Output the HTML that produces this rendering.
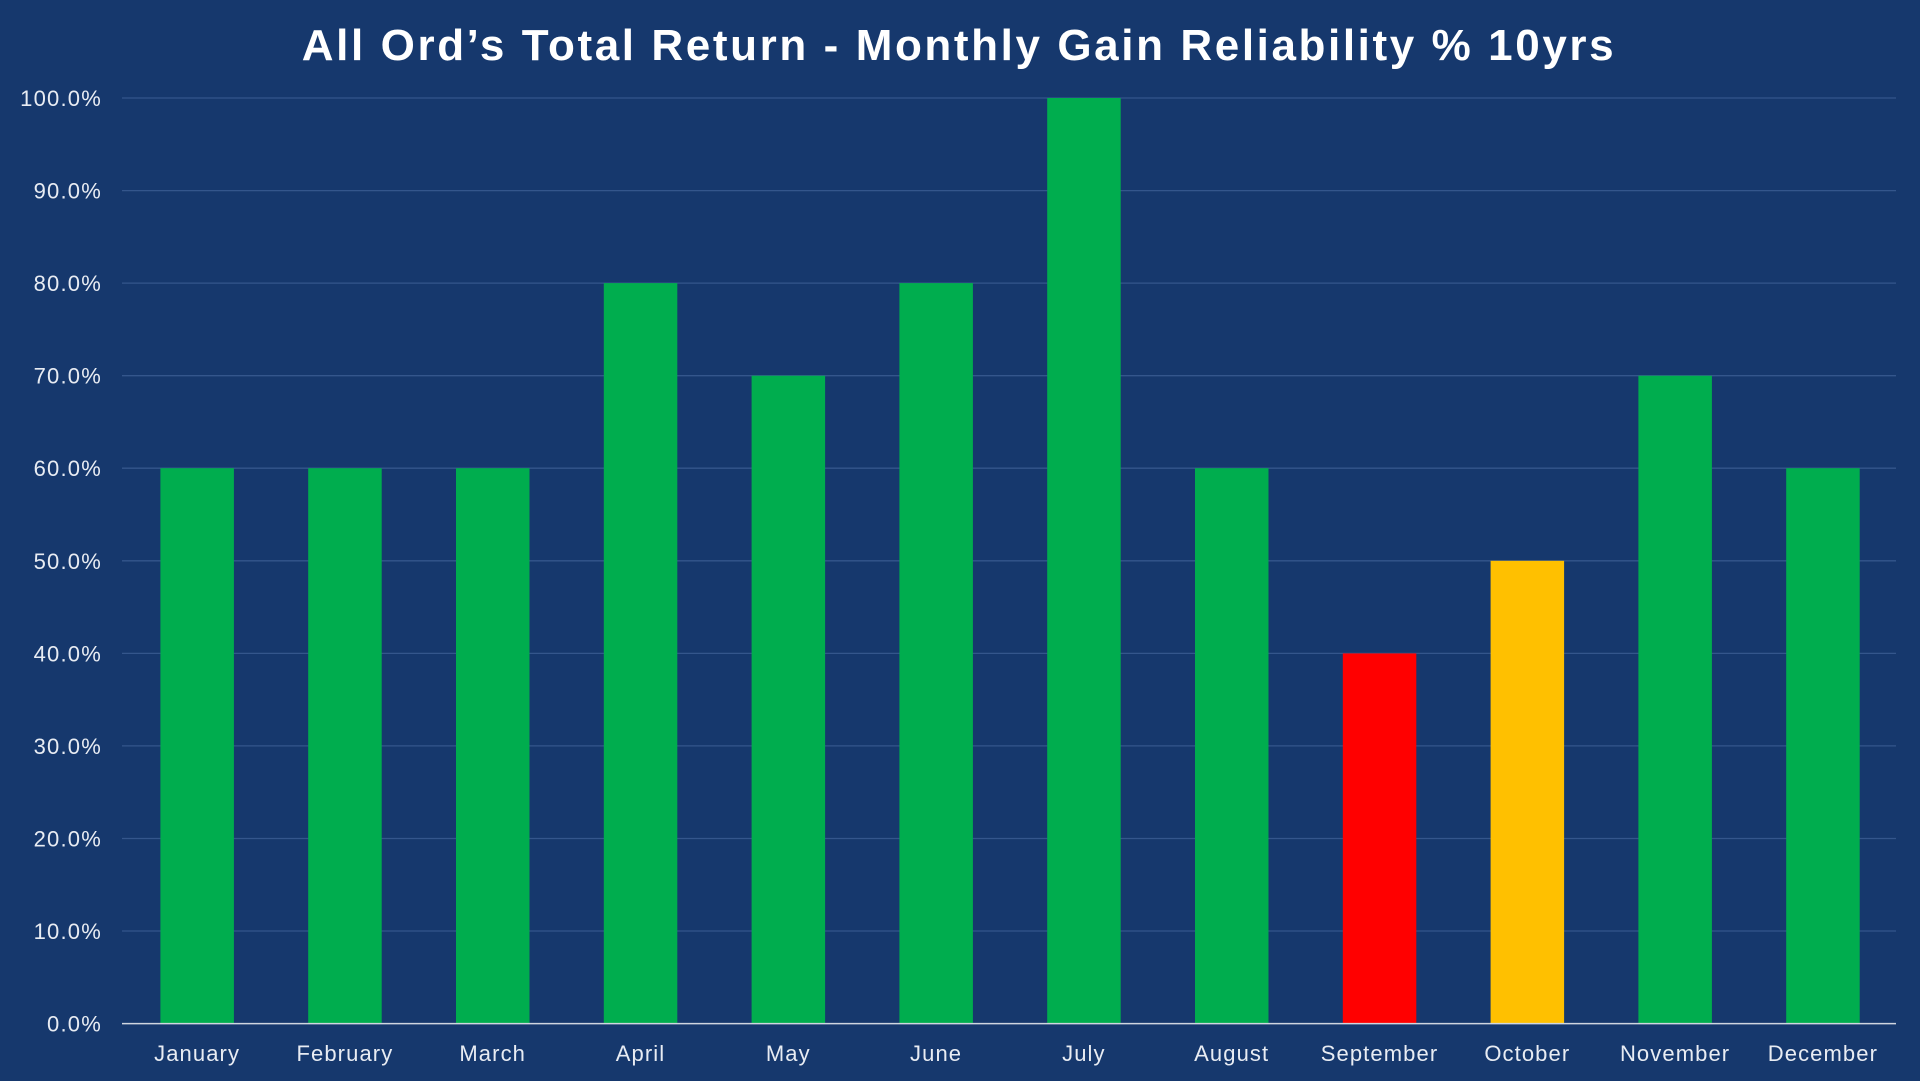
<!DOCTYPE html>
<html><head><meta charset="utf-8"><style>
html,body{margin:0;padding:0;background:#16386d;}
svg{display:block}
text{font-family:"Liberation Sans",sans-serif;fill:#e8ecf3}
</style></head><body>
<svg width="1920" height="1081" viewBox="0 0 1920 1081" xmlns="http://www.w3.org/2000/svg">
<rect width="1920" height="1081" fill="#16386d"/>
<text x="959" y="60" text-anchor="middle" font-size="44" font-weight="bold" letter-spacing="2.6" style="fill:#fff">All Ord’s Total Return - Monthly Gain Reliability % 10yrs</text>
<g stroke="#34568c" stroke-width="1.3">
<line x1="122" x2="1896" y1="98" y2="98"/>
<line x1="122" x2="1896" y1="190.6" y2="190.6"/>
<line x1="122" x2="1896" y1="283.1" y2="283.1"/>
<line x1="122" x2="1896" y1="375.7" y2="375.7"/>
<line x1="122" x2="1896" y1="468.2" y2="468.2"/>
<line x1="122" x2="1896" y1="560.8" y2="560.8"/>
<line x1="122" x2="1896" y1="653.4" y2="653.4"/>
<line x1="122" x2="1896" y1="745.9" y2="745.9"/>
<line x1="122" x2="1896" y1="838.5" y2="838.5"/>
<line x1="122" x2="1896" y1="931" y2="931"/>
</g>
<g font-size="22" text-anchor="end" letter-spacing="1.2">
<text x="102" y="106">100.0%</text>
<text x="102" y="198.6">90.0%</text>
<text x="102" y="291.1">80.0%</text>
<text x="102" y="383.7">70.0%</text>
<text x="102" y="476.2">60.0%</text>
<text x="102" y="568.8">50.0%</text>
<text x="102" y="661.4">40.0%</text>
<text x="102" y="753.9">30.0%</text>
<text x="102" y="846.5">20.0%</text>
<text x="102" y="939">10.0%</text>
<text x="102" y="1031.6">0.0%</text>
</g>
<g>
<rect x="160.4" y="468.2" width="73.5" height="555.4" fill="#00ad4e"/>
<rect x="308.2" y="468.2" width="73.5" height="555.4" fill="#00ad4e"/>
<rect x="456" y="468.2" width="73.5" height="555.4" fill="#00ad4e"/>
<rect x="603.8" y="283.1" width="73.5" height="740.5" fill="#00ad4e"/>
<rect x="751.6" y="375.7" width="73.5" height="647.9" fill="#00ad4e"/>
<rect x="899.4" y="283.1" width="73.5" height="740.5" fill="#00ad4e"/>
<rect x="1047.2" y="98" width="73.5" height="925.6" fill="#00ad4e"/>
<rect x="1195" y="468.2" width="73.5" height="555.4" fill="#00ad4e"/>
<rect x="1342.8" y="653.4" width="73.5" height="370.2" fill="#ff0000"/>
<rect x="1490.6" y="560.8" width="73.5" height="462.8" fill="#ffc000"/>
<rect x="1638.4" y="375.7" width="73.5" height="647.9" fill="#00ad4e"/>
<rect x="1786.2" y="468.2" width="73.5" height="555.4" fill="#00ad4e"/>
</g>
<line x1="122" x2="1896" y1="1023.6" y2="1023.6" stroke="#d0d6e0" stroke-width="1.5"/>
<g font-size="22" text-anchor="middle" letter-spacing="1.1">
<text x="197.1" y="1061">January</text>
<text x="344.9" y="1061">February</text>
<text x="492.7" y="1061">March</text>
<text x="640.5" y="1061">April</text>
<text x="788.3" y="1061">May</text>
<text x="936.1" y="1061">June</text>
<text x="1083.9" y="1061">July</text>
<text x="1231.7" y="1061">August</text>
<text x="1379.5" y="1061">September</text>
<text x="1527.3" y="1061">October</text>
<text x="1675.1" y="1061">November</text>
<text x="1822.9" y="1061">December</text>
</g>
</svg>
</body></html>
